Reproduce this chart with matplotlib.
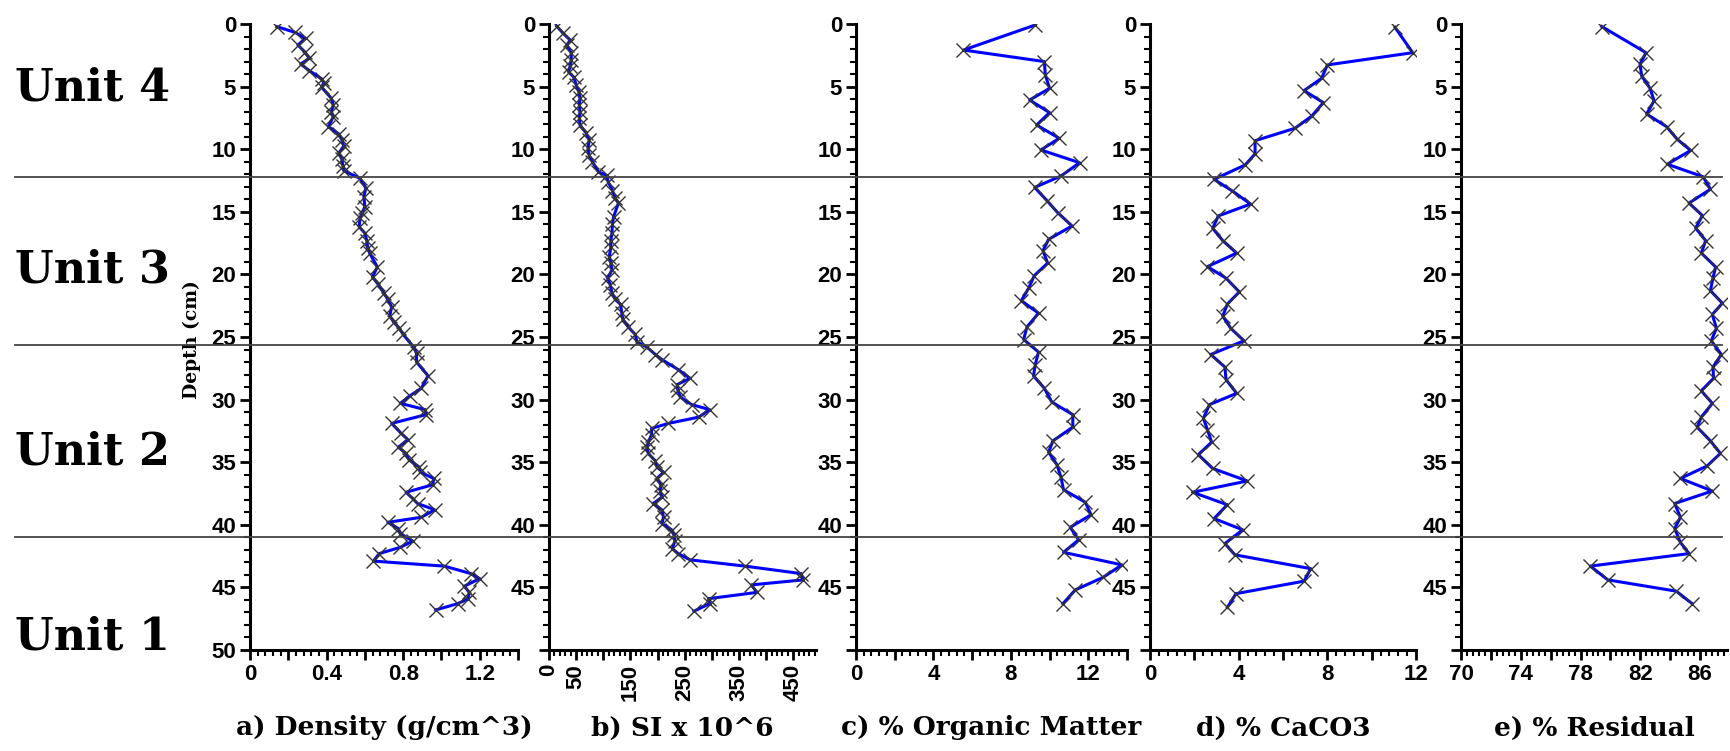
import matplotlib
matplotlib.use('Agg')
import numpy as np
import matplotlib.pyplot as plt
import matplotlib.transforms as mtrans
from matplotlib.lines import Line2D
from matplotlib.ticker import MultipleLocator, FixedLocator

depth_dens = [0.21, 0.67, 1.15, 1.68, 2.21, 2.74, 3.2, 3.73, 4.39, 4.69,
              5.06, 5.94, 6.47, 7.0, 7.4, 8.2, 8.79, 9.27, 9.75, 10.28,
              10.81, 11.32, 11.72, 12.33, 13.1, 13.79, 14.6, 15.1, 15.5, 16.2,
              16.7, 17.3, 17.9, 18.3, 19.4, 20.2, 20.8, 21.5, 22.0, 22.6,
              23.3, 23.8, 24.3, 24.8, 25.8, 26.3, 27.0, 28.1, 29.1, 29.7,
              30.3, 30.8, 31.2, 31.9, 32.7, 33.2, 33.8, 34.3, 34.8, 35.4,
              35.8, 36.3, 36.8, 37.4, 37.9, 38.3, 38.8, 39.4, 39.8, 40.3,
              40.7, 41.3, 41.8, 42.3, 42.9, 43.3, 43.9, 44.3, 44.9, 45.4,
              45.9, 46.3, 46.8]
density = [0.14, 0.235, 0.29, 0.25, 0.285, 0.31, 0.265, 0.31, 0.375, 0.385,
           0.375, 0.425, 0.435, 0.425, 0.435, 0.41, 0.465, 0.48, 0.49, 0.465,
           0.48, 0.485, 0.49, 0.575, 0.605, 0.595, 0.6, 0.585, 0.575, 0.57,
           0.6, 0.61, 0.615, 0.625, 0.665, 0.64, 0.67, 0.7, 0.72, 0.74,
           0.73, 0.75, 0.78, 0.8, 0.855, 0.87, 0.87, 0.93, 0.895, 0.835,
           0.785, 0.915, 0.92, 0.74, 0.79, 0.825, 0.775, 0.815, 0.83, 0.885,
           0.89, 0.96, 0.955, 0.815, 0.85, 0.875, 0.965, 0.895, 0.72, 0.775,
           0.785, 0.85, 0.785, 0.675, 0.645, 1.015, 1.155, 1.2, 1.12, 1.145,
           1.14, 1.085, 0.97]

depth_si = [0.16, 0.74, 1.28, 1.68, 2.34, 2.88, 3.35, 3.81, 4.26, 4.87,
            5.4, 5.94, 6.47, 7.0, 7.5, 8.07, 8.68, 9.27, 9.93, 10.5,
            11.0, 11.8, 12.1, 12.6, 13.3, 13.9, 14.3, 15.4, 15.98, 16.7,
            17.3, 17.8, 18.6, 19.1, 19.65, 20.3, 20.85, 21.5, 22.0, 22.4,
            23.1, 23.6, 24.2, 24.8, 25.4, 25.8, 26.4, 26.8, 27.6, 28.3,
            28.8, 29.2, 29.8, 30.4, 30.8, 31.4, 31.9, 32.3, 32.8, 33.4,
            33.8, 34.3, 34.9, 35.4, 35.8, 36.3, 36.8, 37.3, 37.8, 38.3,
            38.8, 39.4, 39.9, 40.4, 40.8, 41.3, 41.9, 42.3, 42.8, 43.3,
            43.9, 44.4, 44.8, 45.4, 45.9, 46.3, 46.9]
si = [14, 26, 39, 33, 41, 41, 39, 36, 46, 50,
      55, 57, 56, 57, 56, 57, 68, 74, 72, 74,
      80, 91, 106, 109, 117, 122, 128, 119, 117, 116,
      114, 114, 111, 114, 116, 108, 113, 116, 122, 132,
      134, 136, 146, 159, 162, 180, 196, 208, 238, 260,
      236, 237, 242, 263, 296, 276, 220, 189, 189, 183,
      180, 183, 196, 199, 211, 199, 206, 205, 208, 192,
      208, 211, 208, 226, 230, 232, 227, 238, 260, 361,
      465, 468, 373, 383, 294, 296, 267]

depth_om = [0.08, 2.08, 3.0, 4.07, 5.14, 6.07, 7.08, 8.07, 9.13, 10.06,
            11.08, 12.14, 13.05, 14.1, 15.07, 16.13, 17.2, 18.1, 19.1, 20.1,
            21.1, 22.1, 23.1, 24.2, 25.2, 26.2, 27.2, 28.1, 29.1, 30.2,
            31.2, 32.2, 33.3, 34.2, 35.2, 36.2, 37.2, 38.2, 39.2, 40.2,
            41.2, 42.2, 43.2, 44.2, 45.2, 46.3]
organic = [9.26, 5.55, 9.73, 9.78, 10.0, 8.97, 10.0, 9.33, 10.5, 9.55,
           11.55, 10.59, 9.23, 9.86, 10.42, 11.16, 9.95, 9.66, 9.9, 9.21,
           8.92, 8.54, 9.43, 8.83, 8.66, 9.43, 9.26, 9.17, 9.73, 10.12,
           11.2, 11.2, 10.17, 9.95, 10.38, 10.59, 10.72, 11.85, 12.14, 11.07,
           11.5, 10.72, 13.74, 12.76, 11.33, 10.69]

depth_ca = [0.26, 2.29, 3.27, 4.34, 5.32, 6.28, 7.35, 8.33, 9.32, 10.38,
            11.26, 12.41, 13.31, 14.38, 15.33, 16.32, 17.3, 18.3, 19.38, 20.3,
            21.4, 22.37, 23.33, 24.3, 25.3, 26.4, 27.4, 28.4, 29.5, 30.4,
            31.5, 32.4, 33.4, 34.4, 35.5, 36.5, 37.4, 38.4, 39.5, 40.4,
            41.5, 42.4, 43.5, 44.5, 45.5, 46.6]
caco3 = [11.05, 11.85, 8.0, 7.74, 6.95, 7.82, 7.3, 6.54, 4.74, 4.74,
         4.29, 2.89, 3.69, 4.54, 3.08, 2.83, 3.28, 3.91, 2.59, 3.43,
         4.03, 3.49, 3.28, 3.64, 4.24, 2.74, 3.38, 3.43, 3.91, 2.68,
         2.41, 2.59, 2.78, 2.18, 2.83, 4.39, 1.92, 3.49, 2.89, 4.18,
         3.38, 3.83, 7.25, 6.95, 3.88, 3.49]

depth_res = [0.2, 2.29, 3.2, 4.15, 5.14, 6.13, 7.19, 8.2, 9.21, 10.1,
             11.2, 12.2, 13.2, 14.3, 15.3, 16.3, 17.3, 18.3, 19.4, 20.3,
             21.3, 22.3, 23.2, 24.3, 25.3, 26.4, 27.4, 28.3, 29.3, 30.3,
             31.4, 32.2, 33.3, 34.3, 35.3, 36.3, 37.3, 38.3, 39.4, 40.3,
             41.4, 42.3, 43.3, 44.4, 45.3, 46.3]
residual = [79.42, 82.38, 81.98, 82.09, 82.65, 82.92, 82.42, 83.76, 84.47, 85.37,
            83.8, 86.2, 86.69, 85.26, 86.15, 85.7, 86.37, 86.08, 87.04, 86.86,
            86.69, 87.49, 86.82, 87.09, 86.75, 87.42, 86.86, 86.9, 86.08, 86.82,
            86.08, 85.8, 86.69, 87.36, 86.47, 84.68, 86.82, 84.3, 84.68, 84.3,
            84.68, 85.26, 78.65, 79.83, 84.4, 85.47]

titles = ['a) Density (g/cm^3)', 'b) SI x 10^6', 'c) % Organic Matter',
          'd) % CaCO3', 'e) % Residual']
unit_names = ['Unit 4', 'Unit 3', 'Unit 2', 'Unit 1']
unit_bounds = [12.2, 25.6, 41.0]

xlabels_a = ['0', '0.4', '0.8', '1.2']
xlabels_b = ['0', '50', '150', '250', '350', '450']
xlabels_pct = ['0', '4', '8', '12']
xlabels_e = ['70', '74', '78', '82', '86']

W, H = 1730, 751
fig = plt.figure(figsize=(W / 100, H / 100), dpi=100)

# axes boxes in pixels (left, right)
boxes = [(250, 518), (549, 816), (856, 1127), (1150, 1416), (1461, 1727)]
top, bottom = 24, 650

tick_font = dict(family='Liberation Sans', weight='bold', size=16)
serif = 'DejaVu Serif'

panels = [
    (density, depth_dens, (0, 1.4), [0, 0.4, 0.8, 1.2], xlabels_a, 0.2, 0.04),
    (si, depth_si, (0, 492), [0, 50, 150, 250, 350, 450], xlabels_b, 50, 10),
    (organic, depth_om, (0, 14), [0, 4, 8, 12], xlabels_pct, 2, 0.4),
    (caco3, depth_ca, (0, 12), [0, 4, 8, 12], xlabels_pct, 2, 0.4),
    (residual, depth_res, (70, 87.8), [70, 74, 78, 82, 86], xlabels_e, 2, 0.4),
]

axes = []
for i, (vals, deps, xlim, lab_pos, labs, maj, mnr) in enumerate(panels):
    l, r = boxes[i]
    ax = fig.add_axes([l / W, (H - bottom) / H, (r - l) / W, (bottom - top) / H])
    ax.plot(vals, deps, color='#0000ff', lw=2.2, marker='x', ms=10,
            mec='#333333', mew=1.0, zorder=3)
    ax.set_xlim(*xlim)
    ax.set_ylim(50, 0)
    for s in ['top', 'right']:
        ax.spines[s].set_visible(False)
    for s in ['left', 'bottom']:
        ax.spines[s].set_linewidth(2.2)
    # x ticks: major every maj, labels only on lab_pos
    xt = np.arange(xlim[0], xlim[1] + 1e-6, maj)
    ax.xaxis.set_major_locator(FixedLocator(xt))
    xl = []
    for t in xt:
        m = [lb for p, lb in zip(lab_pos, labs) if abs(p - t) < 1e-6]
        xl.append(m[0] if m else '')
    ax.set_xticklabels(xl, fontdict=tick_font, rotation=90 if i == 1 else 0)
    ax.xaxis.set_minor_locator(MultipleLocator(mnr))
    yt = list(range(0, 51, 5))
    ax.set_yticks(yt)
    ax.set_yticklabels([str(t) if (t < 50 or i == 0) else '' for t in yt],
                       fontdict=tick_font)
    ax.yaxis.set_minor_locator(MultipleLocator(1))
    ax.tick_params(which='major', direction='out', length=7, width=2, pad=3,
                   color='black')
    ax.tick_params(which='minor', direction='out', length=4, width=1.5)
    ax.set_facecolor('none')
    axes.append(ax)
    fig.text((l + r) / 2 / W, 1 - 728 / H, titles[i], ha='center', va='center',
             family=serif, weight='bold', fontsize=19)

fig.text(192 / W, 1 - 340 / H, 'Depth (cm)', rotation=90, ha='center',
         va='center', family=serif, weight='bold', fontsize=13.5)

# unit labels and boundaries
unit_y = [88, 270, 452, 637]
for name, y in zip(unit_names, unit_y):
    fig.text(15 / W, 1 - y / H, name, ha='left', va='center', family=serif,
             weight='bold', fontsize=32)

trans = mtrans.blended_transform_factory(fig.transFigure, axes[0].transData)
for d in unit_bounds:
    fig.add_artist(Line2D([15 / W, 1722 / W], [d, d], transform=trans,
                          color='#444444', lw=1.3, zorder=5))

fig.savefig('out.png', dpi=100)
